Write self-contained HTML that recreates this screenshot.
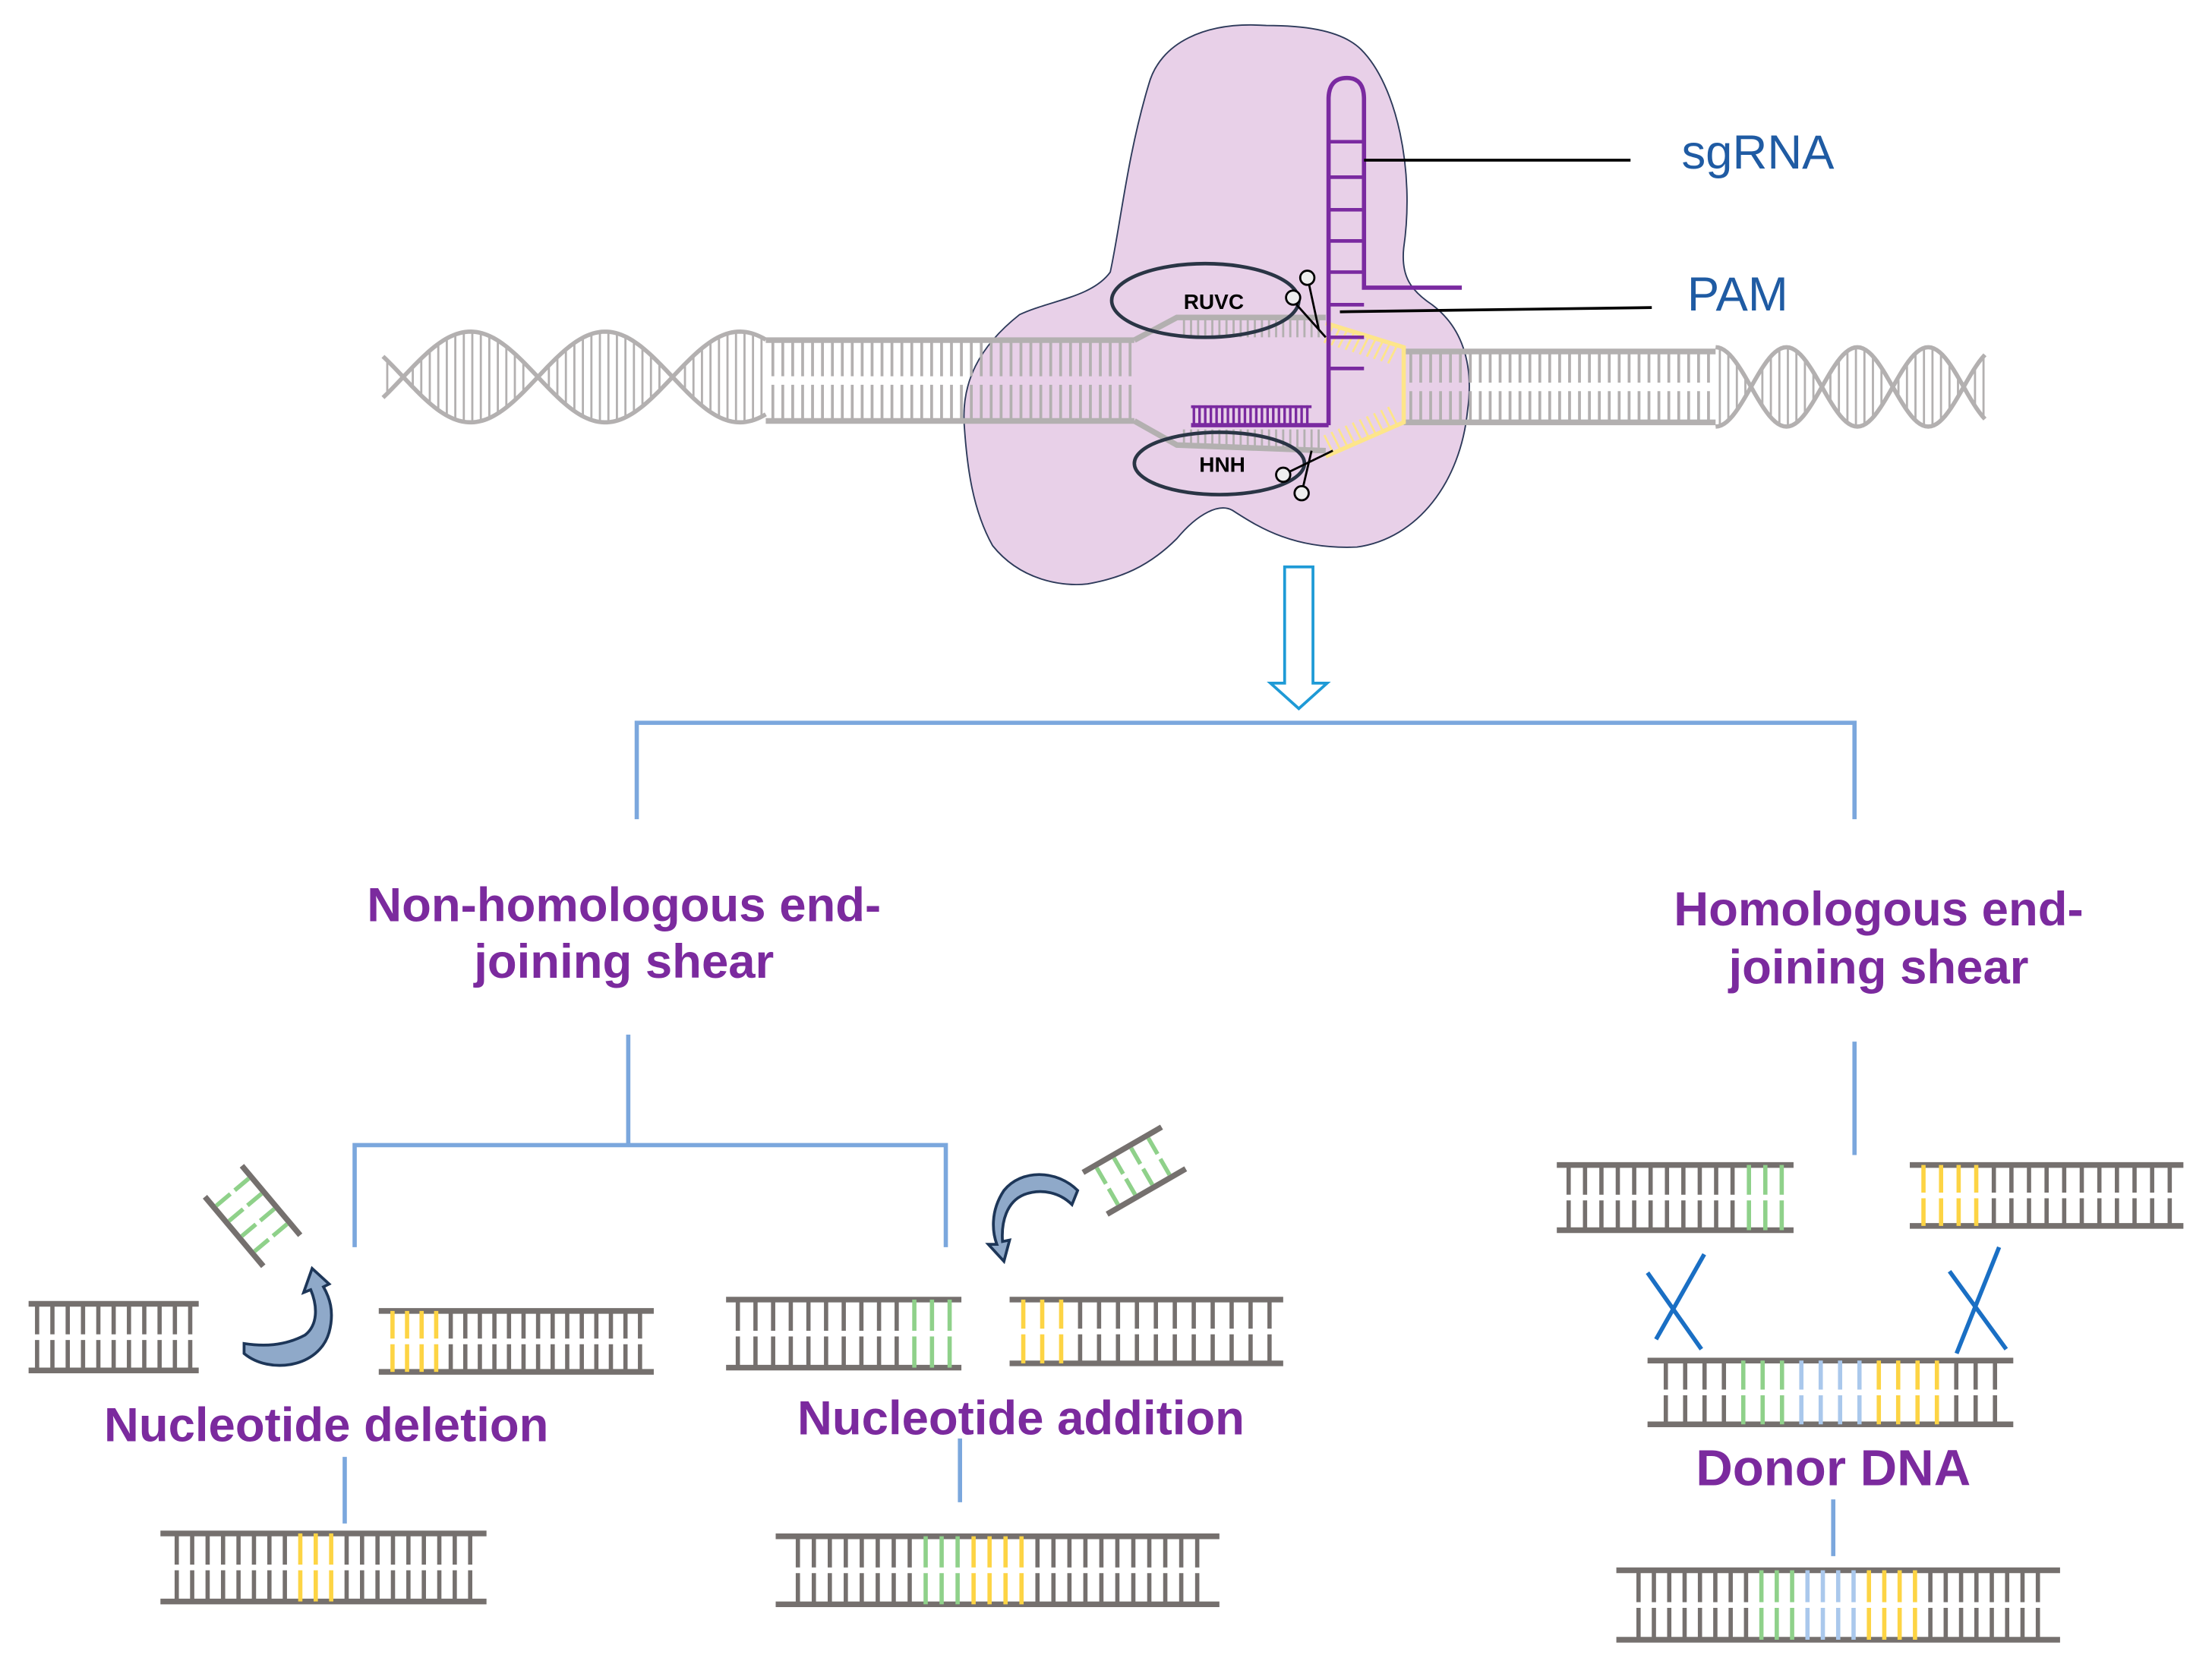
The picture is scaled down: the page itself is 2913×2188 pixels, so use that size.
<!DOCTYPE html>
<html><head><meta charset="utf-8"><style>
html,body{margin:0;padding:0;background:#fff;}
svg{display:block;}
.t{font-family:"Liberation Sans",sans-serif;font-weight:bold;fill:#7b2a9e;font-size:34px;text-anchor:middle;}
.l{font-family:"Liberation Sans",sans-serif;fill:#1f5ba3;font-size:34px;}
</style></head><body>
<svg id="s" width="2913" height="2188" viewBox="0 0 1560 1172" xmlns="http://www.w3.org/2000/svg">
<path d="M893,18 C850,15 818,30 810,60 C795,110 790,160 783,192 C770,210 740,212 719,222 C690,245 678,270 680,300 C682,330 686,360 700,385 C720,410 750,414 767,412 C790,408 810,400 830,380 C845,362 860,355 869,360 C885,370 910,388 957,386 C1000,380 1030,340 1035,290 C1040,255 1030,230 1010,215 C995,205 988,195 990,175 C998,120 985,60 960,35 C945,20 915,18 893,18 Z" fill="#e8d0e8" stroke="#2d3a5a" stroke-width="1"/>
<g id="dna"></g>
<g stroke="#7a2aa0" stroke-width="3" fill="none">
<path d="M937,300 L937,70 Q937,55 950,55 Q962,55 962,70 L962,203 L1031,203"/>
<path d="M937,300 L840,300"/>
</g>
<g id="sg"></g>
<ellipse cx="850" cy="212" rx="66" ry="26" fill="none" stroke="#2a3545" stroke-width="2.5"/>
<ellipse cx="860" cy="327" rx="60" ry="22" fill="none" stroke="#2a3545" stroke-width="2.5"/>
<text x="856" y="218" font-family="Liberation Sans,sans-serif" font-weight="bold" font-size="15" text-anchor="middle">RUVC</text>
<text x="862" y="333" font-family="Liberation Sans,sans-serif" font-weight="bold" font-size="15" text-anchor="middle">HNH</text>
<g stroke="#000" stroke-width="1.5" fill="#eee">
<line x1="910" y1="210" x2="935" y2="238"/><line x1="922" y1="195" x2="930" y2="232"/>
<circle cx="912" cy="210" r="5"/><circle cx="922" cy="196" r="5"/>
<line x1="905" y1="335" x2="940" y2="318"/><line x1="918" y1="348" x2="925" y2="318"/>
<circle cx="905" cy="335" r="5"/><circle cx="918" cy="348" r="5"/>
</g>
<line x1="962" y1="113" x2="1150" y2="113" stroke="#000" stroke-width="2"/>
<line x1="945" y1="220" x2="1165" y2="217" stroke="#000" stroke-width="2"/>
<text class="l" x="1186" y="119">sgRNA</text>
<text class="l" x="1190" y="219">PAM</text>
<path d="M906,400 L926,400 L926,482 L936,482 L916,500 L896,482 L906,482 Z" fill="#fff" stroke="#1e9ad6" stroke-width="2"/>
<g stroke="#7ba7dd" stroke-width="3" fill="none">
<path d="M449,578 L449,510 L1308,510 L1308,578"/>
<line x1="443" y1="730" x2="443" y2="808"/>
<path d="M250,880 L250,808 L667,808 L667,880"/>
<line x1="1308" y1="735" x2="1308" y2="815"/>
<line x1="243" y1="1028" x2="243" y2="1075"/>
<line x1="677" y1="1015" x2="677" y2="1060"/>
<line x1="1293" y1="1058" x2="1293" y2="1098"/>
</g>
<text class="t" x="440" y="650">Non-homologous end-</text>
<text class="t" x="440" y="690">joining shear</text>
<text class="t" x="1325" y="653">Homologous end-</text>
<text class="t" x="1325" y="694">joining shear</text>
<text class="t" x="230" y="1017">Nucleotide deletion</text>
<text class="t" x="720" y="1012">Nucleotide addition</text>
<text class="t" x="1293" y="1048" style="font-size:36px">Donor DNA</text>
<g stroke="#1a6fc4" stroke-width="3">
<line x1="1162" y1="898" x2="1200" y2="952"/><line x1="1202" y1="885" x2="1168" y2="945"/>
<line x1="1375" y1="897" x2="1415" y2="952"/><line x1="1410" y1="880" x2="1380" y2="955"/>
</g>
<path d="M172,955 C190,970 225,965 232,940 C236,925 232,915 228,908 L232,906 L220,895 L214,912 L219,910 C224,922 224,935 215,942 C200,950 185,950 172,948 Z" fill="#8fa9c9" stroke="#1d3658" stroke-width="2"/>
<path d="M760,840 C745,825 720,825 708,840 C698,855 700,870 703,878 L697,878 L708,890 L712,875 L707,876 C706,862 710,848 722,843 C735,838 748,842 756,850 Z" fill="#8fa9c9" stroke="#1d3658" stroke-width="2"/>
<g id="lad"></g>
</svg>
<script>
var NS="http://www.w3.org/2000/svg";
function el(p,n,a){var e=document.createElementNS(NS,n);for(var k in a)e.setAttribute(k,a[k]);p.appendChild(e);return e;}
var G="#75706e",GR="#8fd18a",Y="#fdd444",B="#aac8ec";
var L=document.getElementById("lad");
function ladder(x1,x2,yt,yb,cols,par,tr){var g=el(par||L,"g",tr?{transform:tr}:{});
 el(g,"line",{x1:x1,y1:yt,x2:x2,y2:yt,stroke:G,"stroke-width":4});
 el(g,"line",{x1:x1,y1:yb,x2:x2,y2:yb,stroke:G,"stroke-width":4});
 var n=cols.length,pad=(x2-x1)*0.05,w=(x2-x1-2*pad)/(n-1),m=(yt+yb)/2;
 for(var i=0;i<n;i++){var x=x1+pad+i*w;
  el(g,"line",{x1:x,y1:yt,x2:x,y2:m-2,stroke:cols[i],"stroke-width":3});
  el(g,"line",{x1:x,y1:m+2,x2:x,y2:yb,stroke:cols[i],"stroke-width":3});}
}
function seq(){var a=[];for(var i=0;i<arguments.length;i+=2)for(var j=0;j<arguments[i+1];j++)a.push(arguments[i]);return a;}
ladder(20,140,920,967,seq(G,11));
ladder(267,461,925,968,seq(Y,4,G,14));
ladder(113,343,1082,1130,seq(G,8,Y,3,G,9));
ladder(512,678,917,965,seq(G,10,GR,3));
ladder(712,905,917,962,seq(Y,3,G,11));
ladder(547,860,1084,1132,seq(G,8,GR,3,Y,4,G,11));
ladder(1098,1265,822,868,seq(G,11,GR,3));
ladder(1347,1540,822,865,seq(Y,4,G,11));
ladder(1162,1420,960,1005,seq(G,4,GR,3,B,4,Y,4,G,3));
ladder(1140,1453,1108,1157,seq(G,8,GR,3,B,4,Y,4,G,8));
// green fragments: strands long, rungs across
function frag(cx,cy,ang){var g=el(L,"g",{transform:"translate("+cx+","+cy+") rotate("+ang+")"});
 el(g,"line",{x1:-32,y1:-17,x2:32,y2:-17,stroke:G,"stroke-width":4});
 el(g,"line",{x1:-32,y1:17,x2:32,y2:17,stroke:G,"stroke-width":4});
 for(var i=0;i<4;i++){var x=-22+i*14;el(g,"line",{x1:x,y1:-15,x2:x,y2:-2,stroke:GR,"stroke-width":3});el(g,"line",{x1:x,y1:2,x2:x,y2:15,stroke:GR,"stroke-width":3});}}
frag(178,858,50);
frag(800,826,-30);
var D=document.getElementById("dna"),C="#b3b0b0";
function lad2(x1,x2,yt,yb,step){el(D,"line",{x1:x1,y1:yt,x2:x2,y2:yt,stroke:C,"stroke-width":4});
 el(D,"line",{x1:x1,y1:yb,x2:x2,y2:yb,stroke:C,"stroke-width":4});
 var m=(yt+yb)/2;for(var x=x1+5;x<x2;x+=step){el(D,"line",{x1:x,y1:yt,x2:x,y2:m-3,stroke:C,"stroke-width":2});el(D,"line",{x1:x,y1:m+3,x2:x,y2:yb,stroke:C,"stroke-width":2});}}
lad2(540,800,240,297,7);
lad2(990,1210,248,298,7);
function helix(x1,x2,yc,amp,per,ph){var d1="",d2="";for(var x=x1;x<=x2;x+=2){var t=(x-x1)/per*2*Math.PI+ph;d1+=(x==x1?"M":"L")+x+","+(yc+amp*Math.sin(t));d2+=(x==x1?"M":"L")+x+","+(yc-amp*Math.sin(t));}
 el(D,"path",{d:d1,fill:"none",stroke:C,"stroke-width":3});el(D,"path",{d:d2,fill:"none",stroke:C,"stroke-width":3});
 for(var x=x1+3;x<=x2;x+=6){var t=(x-x1)/per*2*Math.PI+ph;var a=Math.abs(amp*Math.sin(t));if(a>6)el(D,"line",{x1:x,y1:yc-a,x2:x,y2:yc+a,stroke:C,"stroke-width":1.5});}}
helix(270,540,266,32,190,Math.PI*0.85);
helix(1210,1400,273,28,100,Math.PI/2);
el(D,"path",{d:"M800,240 L830,224 L935,224",fill:"none",stroke:C,"stroke-width":4});
el(D,"path",{d:"M800,297 L830,314 L935,318",fill:"none",stroke:C,"stroke-width":4});
for(var x=835;x<932;x+=5){el(D,"line",{x1:x,y1:225,x2:x,y2:238,stroke:C,"stroke-width":1.5});el(D,"line",{x1:x,y1:303,x2:x,y2:316,stroke:C,"stroke-width":1.5});}
el(D,"path",{d:"M935,228 L990,245 L990,298 L935,322",fill:"none",stroke:"#fde58a","stroke-width":3});
for(var i=0;i<10;i++){var x=940+i*5;el(D,"line",{x1:x,y1:230+i*1.6,x2:x-6,y2:242+i*1.6,stroke:"#fde58a","stroke-width":1.5});el(D,"line",{x1:x,y1:319-i*2.2,x2:x-6,y2:307-i*2.2,stroke:"#fde58a","stroke-width":1.5});}
var S=document.getElementById("sg");
[100,125,148,170,192,215,238,260].forEach(function(y){el(S,"line",{x1:937,y1:y,x2:962,y2:y,stroke:"#7a2aa0","stroke-width":2.5});});
for(var x=842;x<925;x+=4)el(S,"line",{x1:x,y1:286,x2:x,y2:300,stroke:"#7a2aa0","stroke-width":1.8});
el(S,"line",{x1:840,y1:287,x2:925,y2:287,stroke:"#7a2aa0","stroke-width":2});
</script>
</body></html>
